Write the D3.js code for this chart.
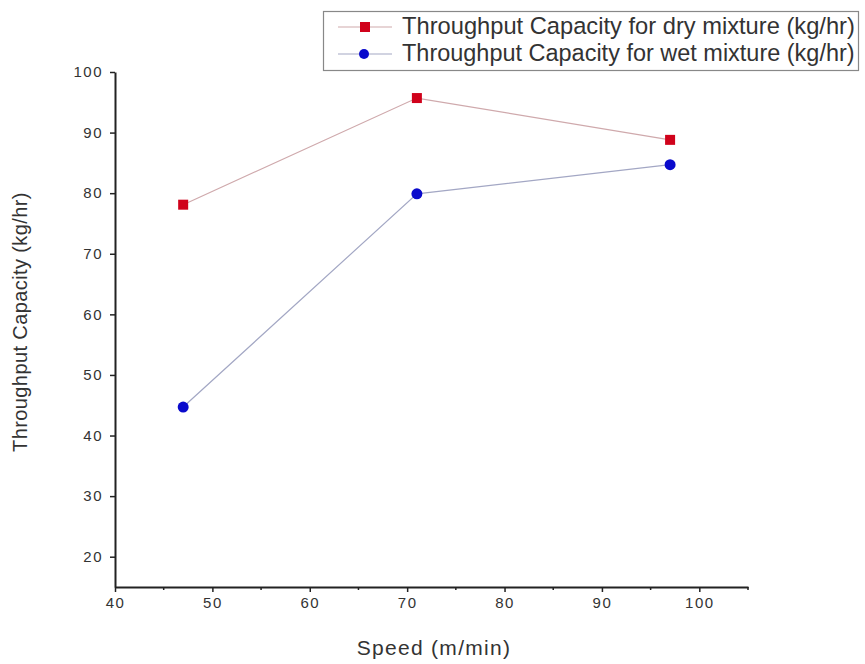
<!DOCTYPE html>
<html>
<head>
<meta charset="utf-8">
<script src="https://cdnjs.cloudflare.com/ajax/libs/d3/7.8.5/d3.min.js"></script>
<style>
  body { margin: 0; background: #fff; }
  svg { display: block; font-family: "Liberation Sans", Arial, sans-serif; }
</style>
</head>
<body>
<div id="chart"></div>
<script>

// speeds (m/min)
var speeds = [47, 71, 97];

// throughput capacity (kg/hr)
var dryValues = [78.1, 95.7, 88.8],
	wetValues = [44.7, 79.9, 84.7];

var seriesNames = ["Throughput Capacity for dry mixture (kg/hr)",
	"Throughput Capacity for wet mixture (kg/hr)"];

var xTicks = [40, 50, 60, 70, 80, 90, 100],
	xMinor = [45, 55, 65, 75, 85, 95, 105],
	yTicks = [20, 30, 40, 50, 60, 70, 80, 90, 100];

var width = 865,
	height = 664;

var svg = d3.select("#chart")
	.append("svg")
	.attr("width", width)
	.attr("height", height);

var x = d3.scaleLinear().domain([40, 105]).range([115, 748]);
var y = d3.scaleLinear().domain([15, 100]).range([587, 72]);

// axes
var xAxis = svg.append("g")
	.attr("transform", "translate(0," + y(15) + ")")
	.call(d3.axisBottom(x).tickValues(xTicks).tickSize(5).tickPadding(5).tickSizeOuter(0));

xAxis.selectAll(".minor")
	.data(xMinor)
		.enter()
	.append("line")
	.attr("class", "minor")
	.attr("x1", function(d){ return x(d); })
	.attr("x2", function(d){ return x(d); })
	.attr("y1", 0)
	.attr("y2", 3)
	.attr("stroke", "#222")
	.attr("stroke-width", 1.5);

var yAxis = svg.append("g")
	.attr("transform", "translate(" + x(40) + ",0)")
	.call(d3.axisLeft(y).tickValues(yTicks).tickSize(5).tickPadding(7).tickSizeOuter(0));

svg.selectAll(".domain")
	.attr("stroke", "#222")
	.attr("stroke-width", 2);
svg.selectAll(".tick line")
	.attr("stroke", "#222")
	.attr("stroke-width", 1.5);
svg.selectAll(".tick text")
	.attr("font-size", 15)
	.attr("letter-spacing", 1.5)
	.attr("fill", "#333");

// axis titles
svg.append("text")
	.attr("x", 434)
	.attr("y", 655)
	.attr("text-anchor", "middle")
	.attr("font-size", 21)
	.attr("letter-spacing", 1.3)
	.attr("fill", "#333")
	.text("Speed (m/min)");

svg.append("text")
	.attr("transform", "translate(27," + 322 + ") rotate(-90)")
	.attr("text-anchor", "middle")
	.attr("font-size", 20)
	.attr("letter-spacing", 0.4)
	.attr("fill", "#333")
	.text("Throughput Capacity (kg/hr)");

// series
var line = d3.line()
	.x(function(d){ return x(d[0]); })
	.y(function(d){ return y(d[1]); });

var dry = d3.zip(speeds, dryValues),
	wet = d3.zip(speeds, wetValues);

svg.append("path")
	.datum(dry)
	.attr("fill", "none")
	.attr("stroke", "#cfa9ac")
	.attr("stroke-width", 1.2)
	.attr("d", line);

svg.append("path")
	.datum(wet)
	.attr("fill", "none")
	.attr("stroke", "#a3a7c4")
	.attr("stroke-width", 1.2)
	.attr("d", line);

svg.selectAll(".dry")
	.data(dry)
		.enter()
	.append("rect")
	.attr("class", "dry")
	.attr("x", function(d){ return x(d[0]) - 5; })
	.attr("y", function(d){ return y(d[1]) - 5; })
	.attr("width", 10)
	.attr("height", 10)
	.attr("fill", "#d0021b");

svg.selectAll(".wet")
	.data(wet)
		.enter()
	.append("circle")
	.attr("class", "wet")
	.attr("cx", function(d){ return x(d[0]); })
	.attr("cy", function(d){ return y(d[1]); })
	.attr("r", 5.5)
	.attr("fill", "#0a0acc");

// legend
var legend = svg.append("g");

legend.append("rect")
	.attr("x", 323.5)
	.attr("y", 11.5)
	.attr("width", 535)
	.attr("height", 59)
	.attr("fill", "#fff")
	.attr("stroke", "#888")
	.attr("stroke-width", 1.2);

var rows = [27, 54];

rows.forEach(function(ry, i){
	legend.append("line")
		.attr("x1", 338).attr("x2", 392)
		.attr("y1", ry).attr("y2", ry)
		.attr("stroke", i == 0 ? "#cfa9ac" : "#a3a7c4")
		.attr("stroke-width", 1.2);
	if (i == 0) {
		legend.append("rect")
			.attr("x", 360).attr("y", ry - 5)
			.attr("width", 10).attr("height", 10)
			.attr("fill", "#d0021b");
	} else {
		legend.append("circle")
			.attr("cx", 364).attr("cy", ry)
			.attr("r", 5)
			.attr("fill", "#0a0acc");
	}
	var t = legend.append("text")
		.attr("x", 402)
		.attr("y", ry + 7)
		.attr("font-size", 20)
		.attr("fill", "#333")
		.text(seriesNames[i]);
	// fit the label width to the box
	var w = t.node().getComputedTextLength();
	t.attr("font-size", 20 * 453 / w);
});

</script>
</body>
</html>
